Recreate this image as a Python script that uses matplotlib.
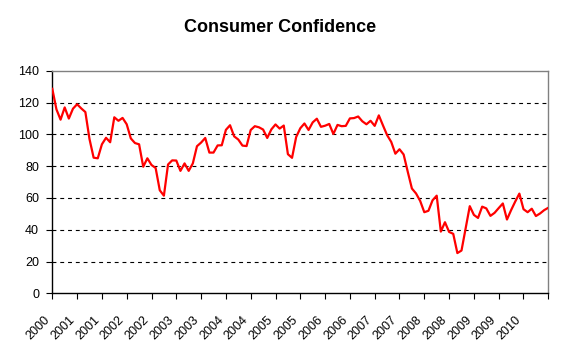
import matplotlib
matplotlib.use("Agg")
import matplotlib.pyplot as plt
import matplotlib.transforms as mtransforms

# Monthly index, Dec 2000 .. Dec 2010
values = [
    128.6, 115.7, 109.2, 116.9, 109.9, 116.1, 118.9, 116.3, 114.0, 97.0, 85.3, 84.9,
    93.7, 97.8, 95.0, 110.7, 108.5, 110.3, 106.3, 97.4, 94.5, 93.7, 79.6, 84.9,
    80.7, 78.8, 64.8, 61.4, 81.0, 83.6, 83.5, 77.0, 81.7, 77.0, 81.7, 92.5,
    94.8, 97.7, 88.5, 88.5, 93.0, 93.1, 102.8, 105.7, 98.7, 96.7, 92.9, 92.6,
    102.7, 105.1, 104.4, 103.0, 97.7, 103.1, 106.2, 103.6, 105.5, 87.5, 85.2, 98.3,
    103.8, 106.8, 102.7, 107.5, 109.8, 104.7, 105.4, 106.5, 100.2, 105.9, 105.1, 105.3,
    110.0, 110.2, 111.2, 108.2, 106.3, 108.5, 105.3, 111.9, 105.6, 99.5, 95.2, 87.8,
    90.6, 87.3, 76.4, 65.9, 62.8, 58.1, 51.0, 51.9, 58.5, 61.4, 38.8, 44.7,
    38.6, 37.4, 25.3, 26.9, 40.8, 54.8, 49.3, 47.4, 54.5, 53.4, 48.7, 50.6,
    53.6, 56.5, 46.4, 52.3, 57.7, 62.7, 52.9, 51.0, 53.2, 48.6, 50.2, 52.3,
    53.8,
]
tick_labels = ["2000", "2001", "2001", "2002", "2002", "2003", "2003", "2004", "2004",
               "2005", "2005", "2006", "2006", "2007", "2007", "2008", "2008", "2009",
               "2009", "2010", ""]
tick_step = 6
title = "Consumer Confidence"

plt.rcParams['font.family'] = ['Liberation Sans', 'DejaVu Sans']

W, H = 561, 349
fig = plt.figure(figsize=(W / 100, H / 100), dpi=100)
ax = fig.add_axes([52.3 / W, 1 - 293.3 / H, (548.3 - 52.3) / W, (293.3 - 70.7) / H])

x = list(range(len(values)))
ax.plot(x, values, color="#FF0000", lw=1.6, solid_joinstyle="round", zorder=3)

ax.set_xlim(0, len(values) - 1)
ax.set_ylim(0, 140)
ax.set_yticks(range(0, 141, 20))
ax.set_yticklabels([str(v) for v in range(0, 141, 20)], fontsize=9)

ticks = list(range(0, len(values), tick_step))
ax.set_xticks(ticks)
ax.set_xticklabels(tick_labels[:len(ticks)], fontsize=9, rotation=45, ha="right", va="top")
offset = mtransforms.ScaledTranslation(-5.6 / 100, 0, fig.dpi_scale_trans)
for lab in ax.get_xticklabels():
    lab.set_transform(lab.get_transform() + offset)

ax.tick_params(axis="x", direction="out", length=4, width=0.8, pad=10.5, colors="black")
ax.tick_params(axis="y", direction="out", length=4, width=0.8, pad=5.5, colors="black")

for y in range(20, 140, 20):
    ax.axhline(y, color="black", lw=0.8, dashes=(3.5, 3.5), zorder=1)

ax.spines["left"].set_color("black")
ax.spines["bottom"].set_color("black")
ax.spines["top"].set_color("#808080")
ax.spines["right"].set_color("#808080")
for s in ax.spines.values():
    s.set_linewidth(1.0)

fig.text(0.5, 1 - 27 / H, title, ha="center", va="center", fontsize=13, fontweight="bold")

fig.savefig("out.png", dpi=100)
